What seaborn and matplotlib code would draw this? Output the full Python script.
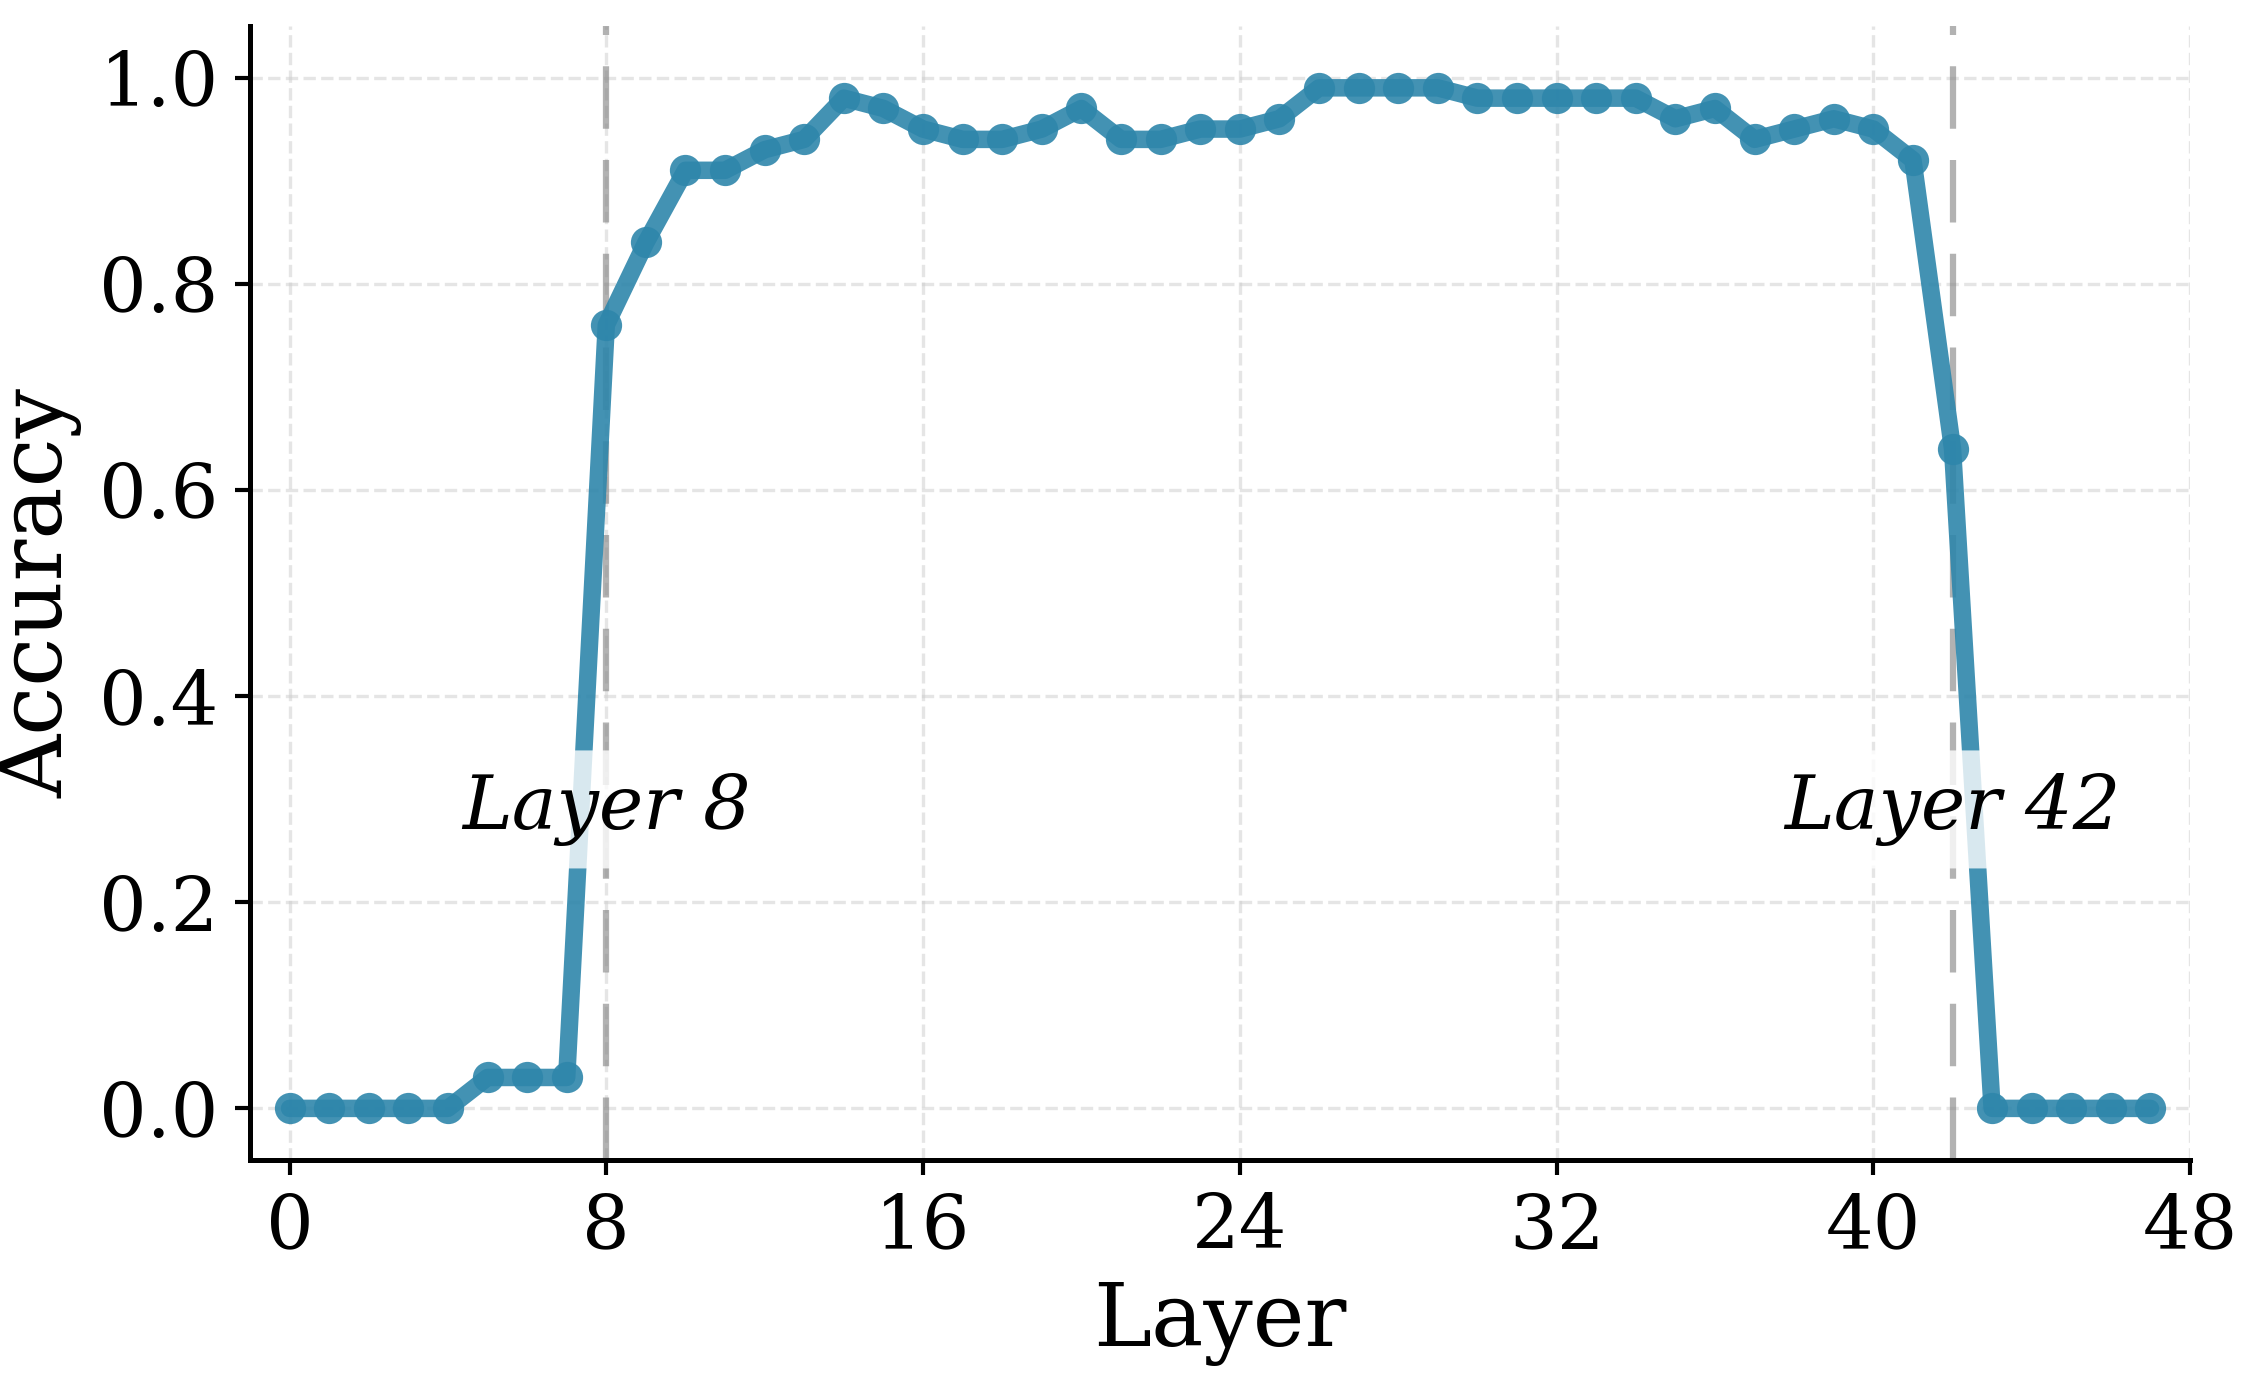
import numpy as np
import pandas as pd
import matplotlib
matplotlib.use("Agg")
import matplotlib.pyplot as plt
import seaborn as sns

layers = list(range(48))
accuracy = [0.0, 0.0, 0.0, 0.0, 0.0, 0.03, 0.03, 0.03,
            0.76, 0.84, 0.91, 0.91, 0.93, 0.94, 0.98, 0.97,
            0.95, 0.94, 0.94, 0.95, 0.97, 0.94, 0.94, 0.95,
            0.95, 0.96, 0.99, 0.99, 0.99, 0.99, 0.98, 0.98,
            0.98, 0.98, 0.98, 0.96, 0.97, 0.94, 0.95, 0.96,
            0.95, 0.92, 0.64, 0.0, 0.0, 0.0, 0.0, 0.0]
marked_layers = [8, 42]
marked_labels = ["Layer 8", "Layer 42"]
x_ticks = [0, 8, 16, 24, 32, 40, 48]
y_ticks = [0.0, 0.2, 0.4, 0.6, 0.8, 1.0]

sns.set_style("ticks")
plt.rcParams["font.family"] = ["DejaVu Serif"]
plt.rcParams["text.color"] = "black"
plt.rcParams["axes.labelcolor"] = "black"
plt.rcParams["xtick.color"] = "black"
plt.rcParams["ytick.color"] = "black"

df = pd.DataFrame({"Layer": layers, "Accuracy": accuracy})

fig = plt.figure(figsize=(2266 / 300, 1397 / 300), dpi=300)
ax = fig.add_axes([0.1103, 0.1697, 0.9665 - 0.1103, 0.9814 - 0.1697])

sns.lineplot(data=df, x="Layer", y="Accuracy", ax=ax, color="#2E86AB",
             linewidth=4.2, marker="o", markersize=7.5, markeredgewidth=0,
             alpha=0.9, zorder=3)

for xl, lab in zip(marked_layers, marked_labels):
    ax.axvline(xl, color="gray", alpha=0.6, linewidth=1.5, dashes=(10, 5), zorder=2)
    ax.text(xl, 0.29, lab, ha="center", va="center", fontsize=18,
            style="italic", zorder=5, color="black",
            bbox=dict(boxstyle="round,pad=0.3", facecolor="white",
                      edgecolor="none", alpha=0.8))

ax.set_xlim(-1, 48)
ax.set_ylim(-0.05, 1.05)
ax.set_xticks(x_ticks)
ax.set_yticks(y_ticks)
ax.set_xticklabels([str(t) for t in x_ticks])
ax.set_yticklabels([f"{t:.1f}" for t in y_ticks])
ax.tick_params(axis="both", labelsize=18, width=1, length=3.5,
               colors="black", pad=4)
ax.set_xlabel("Layer", fontsize=21, labelpad=4, color="black")
ax.set_ylabel("Accuracy", fontsize=21, labelpad=4, color="black")
ax.grid(True, linestyle="--", color="#cccccc", alpha=0.5, linewidth=0.8)
ax.set_axisbelow(True)
for s in ["top", "right"]:
    ax.spines[s].set_visible(False)
for s in ["left", "bottom"]:
    ax.spines[s].set_linewidth(1.2)
    ax.spines[s].set_color("black")

fig.savefig("out.png", dpi=300)
